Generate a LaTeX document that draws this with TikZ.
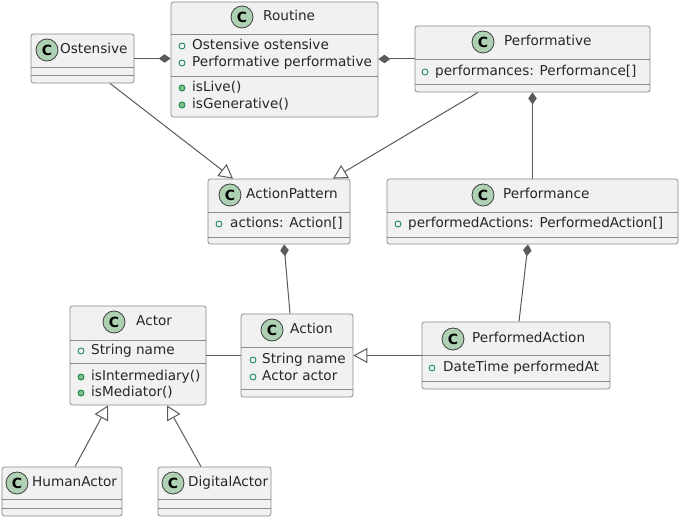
\documentclass[tikz,border=0pt]{standalone}
\usepackage{fontspec}
\setmainfont{DejaVu Sans}
\usetikzlibrary{arrows.meta,fit}
\definecolor{boxfill}{HTML}{F1F1F1}
\definecolor{boxline}{HTML}{8A8A8A}
\definecolor{conncol}{HTML}{5A5A5A}
\definecolor{cfill}{HTML}{ADD1B2}
\definecolor{fgreen}{HTML}{038048}
\definecolor{mfill}{HTML}{84BE84}
\newcommand\umlbox[7]{%
  \node[cls, fit={(#2,#3) (#4,#5)}] (#1) {};
  \draw[sepline] (#1.west |- 0,#6) -- (#1.east |- 0,#6);
  \draw[sepline] (#1.west |- 0,#7) -- (#1.east |- 0,#7);}
\newcommand\umlhead[5]{%
  \node[cicon] (#1-c) at (#2,#3) {C};
  \node[txt] (#1-t) at (#4,#3) {#5};}
\newcommand\umlfield[5]{%
  \draw[fld] (#2,#4) circle[radius=3pt];
  \node[txt] (#1) at (#3,#4) {#5};}
\newcommand\umlmethod[5]{%
  \draw[mth] (#2,#4) circle[radius=3pt];
  \node[txt] (#1) at (#3,#4) {#5};}
\begin{document}
\begin{tikzpicture}[x=1pt,y=-1pt,
  cls/.style={draw=boxline, fill=boxfill, rounded corners=2.5pt, line width=0.8pt, inner sep=0pt},
  sepline/.style={draw=boxline, line width=0.8pt},
  cicon/.style={circle, draw=black!75, fill=cfill, line width=0.8pt, minimum size=22pt, inner sep=0pt, font=\fontsize{14}{14}\selectfont\bfseries},
  txt/.style={anchor=west, inner sep=0pt, text height=10pt, text depth=3pt, font=\fontsize{13.6}{16}\selectfont, text=black!85},
  fld/.style={draw=fgreen, line width=0.8pt},
  mth/.style={draw=fgreen, fill=mfill, line width=0.8pt},
  link/.style={draw=conncol, line width=1pt},
  comp/.style={link, {Diamond[length=12pt,width=8.5pt]}-},
  gen/.style={link, -{Triangle[open,length=14pt,width=15pt,fill=white]}},
]
\fill[white] (0,0) rectangle (680,518);
\useasboundingbox (0,0) rectangle (680,518);

% Ostensive
\umlbox{ost}{31}{34}{134}{83}{67}{75}
\umlhead{ost}{47}{50}{60}{Ostensive}
% Routine
\umlbox{routine}{171}{2}{378}{117}{34}{76}
\umlhead{routine}{242}{17}{263}{Routine}
\umlfield{routine-a1}{182}{192}{46}{Ostensive ostensive}
\umlfield{routine-a2}{182}{192}{63}{Performative performative}
\umlmethod{routine-m1}{182}{192}{88}{isLive()}
\umlmethod{routine-m2}{182}{192}{105}{isGenerative()}
% Performative
\umlbox{perf}{415}{26}{650}{92}{59}{84}
\umlhead{perf}{483}{42}{504}{Performative}
\umlfield{perf-a1}{425}{435}{72}{performances: Performance[]}
% ActionPattern
\umlbox{ap}{208}{179}{350}{244}{212}{237}
\umlhead{ap}{230}{195}{246}{ActionPattern}
\umlfield{ap-a1}{219}{230}{224}{actions: Action[]}
% Performance
\umlbox{perfm}{387}{179}{678}{244}{212}{237}
\umlhead{perfm}{483}{195}{503}{Performance}
\umlfield{perfm-a1}{398}{408}{224}{performedActions: PerformedAction[]}
% Actor
\umlbox{actor}{70}{306}{206}{405}{340}{363}
\umlhead{actor}{114}{322}{136}{Actor}
\umlfield{actor-a1}{81}{91}{351}{String name}
\umlmethod{actor-m1}{81}{91}{377}{isIntermediary()}
\umlmethod{actor-m2}{81}{91}{393}{isMediator()}
% Action
\umlbox{act}{241}{314}{353}{397}{347}{389}
\umlhead{act}{272}{330}{290}{Action}
\umlfield{act-a1}{253}{262}{360}{String name}
\umlfield{act-a2}{253}{262}{377}{Actor actor}
% PerformedAction
\umlbox{pa}{422}{322}{610}{389}{355}{381}
\umlhead{pa}{453}{339}{472}{PerformedAction}
\umlfield{pa-a1}{432}{443}{368}{DateTime performedAt}
% HumanActor
\umlbox{human}{2}{467}{122}{516}{499}{508}
\umlhead{human}{17}{483}{32}{HumanActor}
% DigitalActor
\umlbox{digital}{158}{467}{271}{516}{499}{508}
\umlhead{digital}{173}{483}{188}{DigitalActor}

% connectors
\draw[comp] (routine.west |- ost.east) -- (ost.east);
\draw[comp] (routine.east |- perf.west) -- (perf.west);
\draw[gen] ([xshift=27.5pt]ost.south) -- ([xshift=-46pt]ap.north);
\draw[gen] ([xshift=-54.5pt]perf.south) -- ([xshift=54pt]ap.north);
\draw[comp] (perf.south) -- (perfm.north);
\draw[comp] ([xshift=5pt]ap.south) -- ([xshift=-7pt]act.north);
\draw[comp] ([xshift=-4.5pt]perfm.south) -- ([xshift=3pt]pa.north);
\draw[link] (actor.east) -- (actor.east -| act.west);
\draw[gen] (pa.west) -- (pa.west -| act.east);
\draw[gen] ([xshift=13pt]human.north) -- ([xshift=-30pt]actor.south);
\draw[gen] ([xshift=-13.5pt]digital.north) -- ([xshift=29pt]actor.south);
\end{tikzpicture}
\end{document}
